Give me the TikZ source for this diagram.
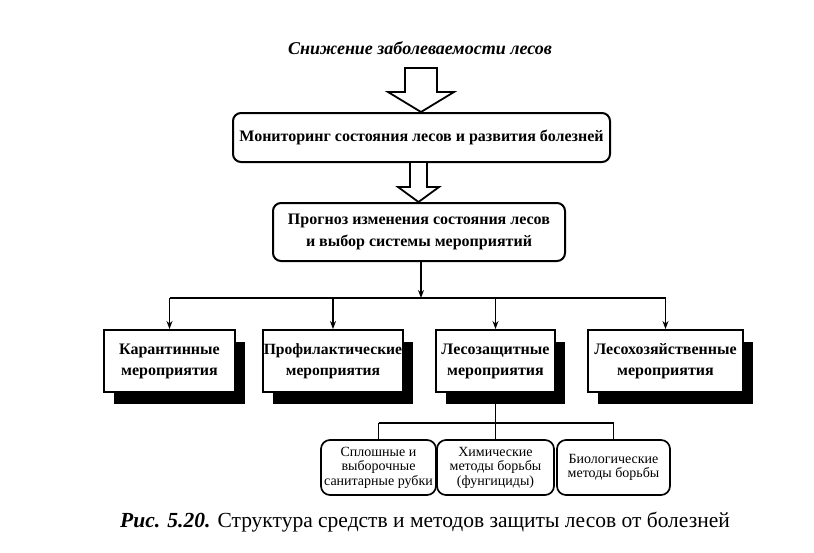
\documentclass[tikz,border=0pt]{standalone}
\usepackage{fontspec}
\setmainfont{Liberation Serif}
\usetikzlibrary{shadows,arrows.meta,calc}
\begin{document}
\begin{tikzpicture}[x=1pt,y=-1pt,
  rbox/.style={draw,line width=2pt,rounded corners=8pt,fill=white,align=center,inner sep=2pt,font=\bfseries\fontsize{16}{22}\selectfont},
  sbox/.style={draw,line width=2pt,fill=white,align=center,inner xsep=0pt,inner ysep=1pt,font=\bfseries\fontsize{16}{21}\selectfont,
     minimum height=62pt,
     drop shadow={shadow xshift=10pt,shadow yshift=-12pt,fill=black,opacity=1}},
  subbox/.style={draw,line width=1.7pt,rounded corners=9pt,fill=white,align=center,inner xsep=0pt,inner ysep=1pt,
     minimum height=55pt,font=\fontsize{14}{14.5}\selectfont},
  conn/.style={line width=1.8pt},
  arr/.style={conn,-{Stealth[length=8pt,width=6pt]}},
  blockarr/.style={draw,line width=1.8pt,fill=white,line join=miter}]
\useasboundingbox (0,0) rectangle (814,552);

\node[font=\bfseries\itshape\fontsize{18}{21}\selectfont] (title) at (420,48) {Снижение заболеваемости лесов};

\node[rbox,minimum width=377pt,minimum height=49pt] (mon) at (421.5,137.5)
  {Мониторинг состояния лесов и развития болезней};
\node[rbox,minimum width=292pt,minimum height=58pt] (prog) at (419,232)
  {Прогноз изменения состояния лесов\\и выбор системы мероприятий};

% block arrows
\coordinate (a1t) at (421,68);
\draw[blockarr] ($(a1t)+(-16,0)$) -- ($(a1t)+(16,0)$) -- ($(a1t)+(16,24)$) -- ($(a1t)+(33,24)$)
  -- (mon.north -| a1t) -- ($(a1t)+(-33,24)$) -- ($(a1t)+(-16,24)$) -- cycle;
\coordinate (a2t) at (418.5,162);
\draw[blockarr] ($(a2t)+(-8.5,0)$) -- ($(a2t)+(8.5,0)$) -- ($(a2t)+(8.5,25)$) -- ($(a2t)+(20.5,25)$)
  -- (prog.north -| a2t) -- ($(a2t)+(-20.5,25)$) -- ($(a2t)+(-8.5,25)$) -- cycle;

% middle row
\node[sbox,minimum width=131pt] (kar) at (169.5,361) {Карантинные\\мероприятия};
\node[sbox,minimum width=140pt,font=\bfseries\fontsize{15.6}{21}\selectfont] (prof) at (333,361) {Профилактические\\мероприятия};
\node[sbox,minimum width=119pt] (lz) at (495.5,361) {Лесозащитные\\мероприятия};
\node[sbox,minimum width=155pt] (lh) at (665.5,361) {Лесохозяйственные\\мероприятия};

\coordinate (hb) at (421,298);
\draw[arr] (prog.south -| hb) -- (hb);
\draw[conn] (kar.north |- hb) -- (lh.north |- hb);
\draw[arr] (kar.north |- hb) -- (kar.north);
\draw[arr] (prof.north |- hb) -- (prof.north);
\draw[arr] (lz.north |- hb) -- (lz.north);
\draw[arr] (lh.north |- hb) -- (lh.north);

% sub row
\node[subbox,minimum width=115pt] (s1) at (378.5,467.5) {Сплошные и\\выборочные\\санитарные рубки};
\node[subbox,minimum width=117pt] (s2) at (495.5,467.5) {Химические\\методы борьбы\\(фунгициды)};
\node[subbox,minimum width=113pt] (s3) at (613.5,467.5) {Биологические\\методы борьбы};

\coordinate (hs) at (496,423);
\draw[conn] (lz.south) -- (lz.south |- hs);
\draw[conn] (s1.north |- hs) -- (s3.north |- hs);
\draw[conn] (s1.north |- hs) -- (s1.north);
\draw[conn] (s2.north |- hs) -- (s2.north);
\draw[conn] (s3.north |- hs) -- (s3.north);

\node[font=\fontsize{21.5}{24}\selectfont] (cap) at (425,522) {\textbf{\textit{Рис. 5.20.}} Структура средств и методов защиты лесов от болезней};
\end{tikzpicture}
\end{document}
